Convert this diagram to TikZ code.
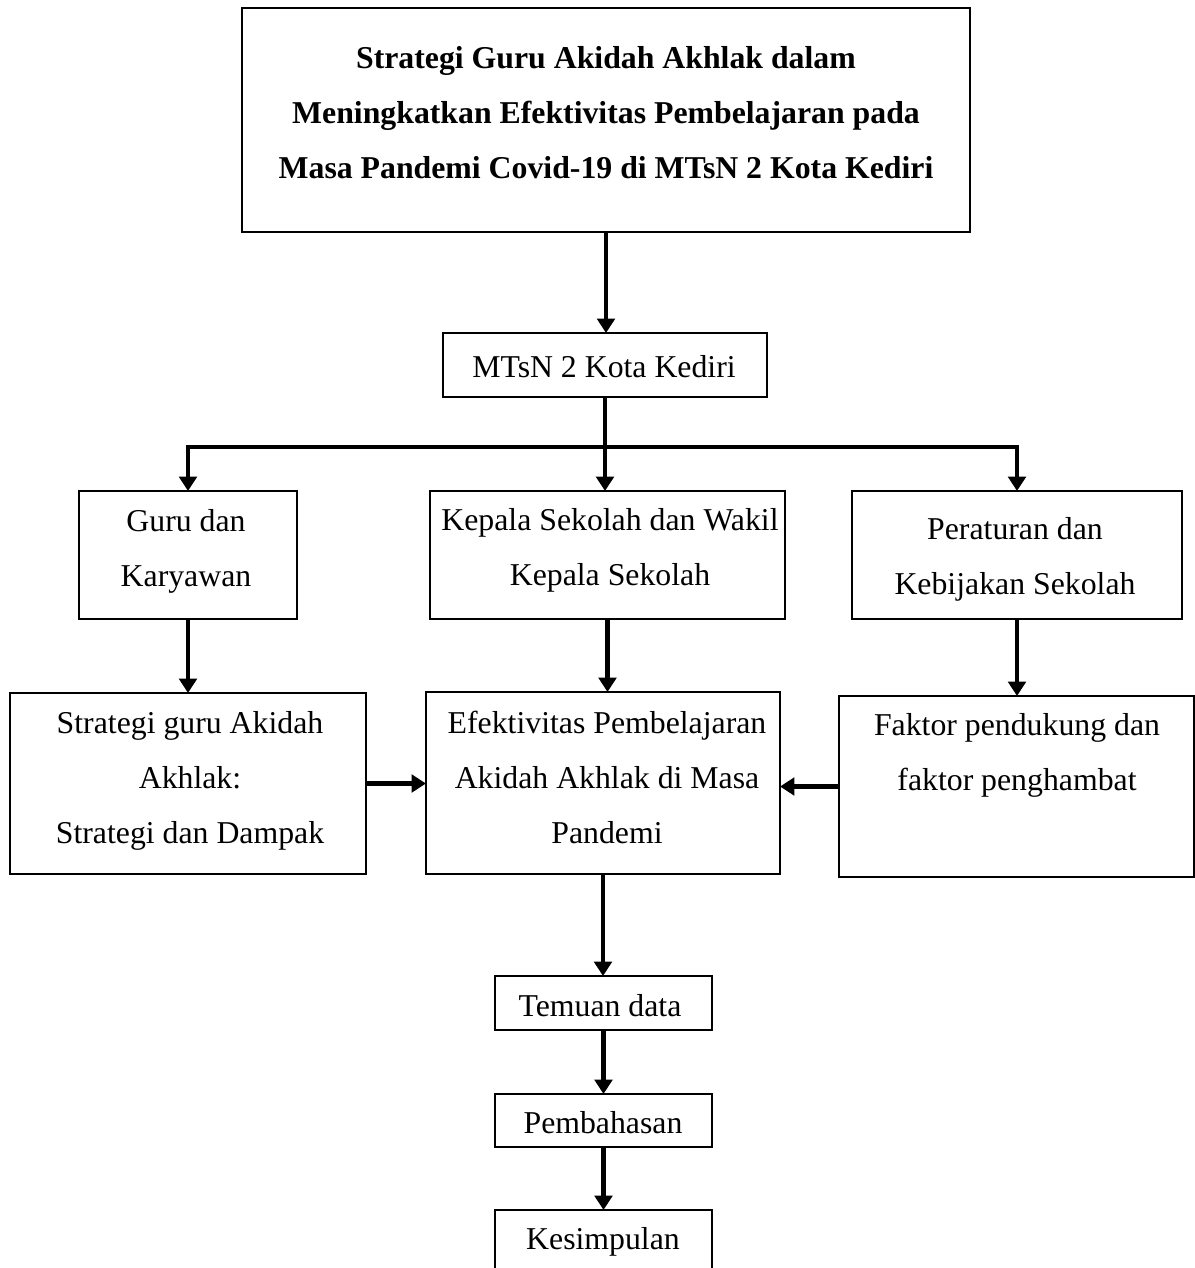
\documentclass[tikz,border=0pt]{standalone}
\usepackage{fontspec}
\setmainfont{Liberation Serif}
\usetikzlibrary{calc, shapes, arrows.meta}

\begin{document}
\begin{tikzpicture}[x=0.025cm, y=-0.025cm,
	box/.style={draw, line width=1pt, inner sep=0pt, outer sep=0pt},
	teks/.style={anchor=base, align=center, inner sep=0pt, font=\fontsize{22.6}{39.1}\selectfont},
	panah/.style={line width=3.5pt, -{Triangle[length=0.36cm, width=0.44cm]}}]
				\useasboundingbox (0,0) rectangle (1195,1268);
				%Title box at the top
				\node [box, minimum width=18.2cm, minimum height=5.6cm] (judul) at (606,120) {};
				\node [teks, font=\fontsize{22.6}{39.1}\selectfont\bfseries] (tJudul) at (606,178) {Strategi Guru Akidah Akhlak dalam\\Meningkatkan Efektivitas Pembelajaran pada\\Masa Pandemi Covid-19 di MTsN 2 Kota Kediri};
				%The school
				\node [box, minimum width=8.1cm, minimum height=1.6cm] (mtsn) at (605,365) {};
				\node [teks] (tMtsn) at (604,377) {MTsN 2 Kota Kediri};
				%Second row (base of the last line)
				\node [box, minimum width=5.45cm, minimum height=3.2cm] (guru) at (188,555) {};
				\node [box, minimum width=8.875cm, minimum height=3.2cm] (kepala) at (607.5,555) {};
				\node [box, minimum width=8.25cm, minimum height=3.2cm] (aturan) at (1017,555) {};
				\node [teks] (tGuru) at (186,586) {Guru dan\\Karyawan};
				\node [teks] (tKepala) at (610,585) {Kepala Sekolah dan Wakil\\Kepala Sekolah};
				\node [teks] (tAturan) at (1015,594) {Peraturan dan\\Kebijakan Sekolah};
				%Third row
				\node [box, minimum width=8.9cm, minimum height=4.525cm] (strategi) at (188,783.5) {};
				\node [box, minimum width=8.85cm, minimum height=4.55cm] (efektif) at (603,783) {};
				\node [box, minimum width=8.875cm, minimum height=4.525cm] (faktor) at (1016.5,786.5) {};
				\node [teks] (tStrategi) at (190,843) {Strategi guru Akidah\\Akhlak:\\Strategi dan Dampak};
				\node [teks] (tEfektif) at (607,843) {Efektivitas Pembelajaran\\Akidah Akhlak di Masa\\Pandemi};
				\node [teks] (tFaktor) at (1017,790) {Faktor pendukung dan\\faktor penghambat};
				%Small boxes at the bottom
				\node [box, minimum width=5.425cm, minimum height=1.35cm] (temuan) at (603.5,1003) {};
				\node [box, minimum width=5.425cm, minimum height=1.325cm] (bahas) at (603.5,1120.5) {};
				\node [box, minimum width=5.425cm, minimum height=2cm] (simpul) at (603.5,1250) {};
				\node [teks] (tTemuan) at (600,1016) {Temuan data};
				\node [teks] (tBahas) at (603,1133) {Pembahasan};
				\node [teks] (tSimpul) at (603,1249) {Kesimpulan};
				%Arrows
				\coordinate (cabang) at (605,447);
				\draw [panah] (judul.south) -- (judul.south |- mtsn.north);
				\draw [panah] (mtsn.south) -- (mtsn.south |- kepala.north);
				\draw [panah] (cabang) -| (guru.north);
				\draw [panah] (cabang) -| (aturan.north);
				\draw [panah] (guru.south) -- (guru.south |- strategi.north);
				\draw [panah] (kepala.south) -- (kepala.south |- efektif.north);
				\draw [panah] (aturan.south) -- (aturan.south |- faktor.north);
				\draw [panah] (strategi.east) -- (strategi.east -| efektif.west);
				\draw [panah] (faktor.west) -- (faktor.west -| efektif.east);
				\draw [panah] (efektif.south) -- (efektif.south |- temuan.north);
				\draw [panah] (temuan.south) -- (temuan.south |- bahas.north);
				\draw [panah] (bahas.south) -- (bahas.south |- simpul.north);
\end{tikzpicture}
\end{document}
